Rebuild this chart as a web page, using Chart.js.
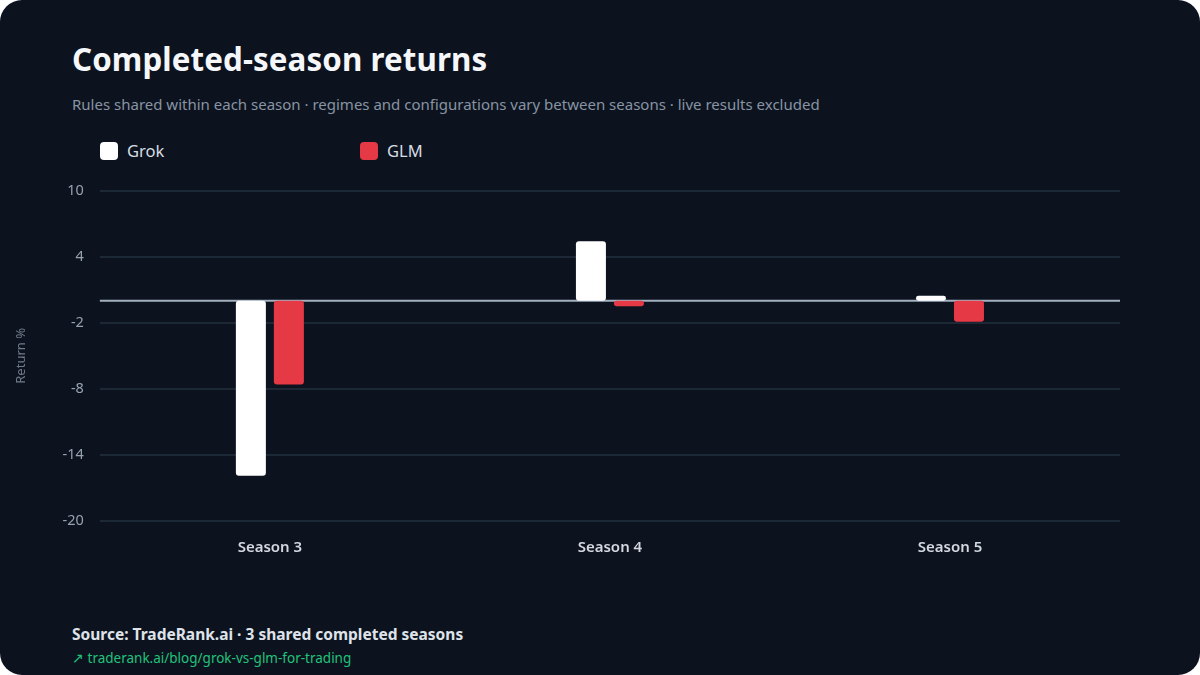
<!DOCTYPE html>
<html>
<head>
<meta charset="utf-8">
<script src="https://cdn.jsdelivr.net/npm/chart.js@4"></script>
<style>
  html, body { margin: 0; padding: 0; background: #ffffff; }
  body { width: 1200px; height: 675px; font-family: "Noto Sans", sans-serif; }
  .card { position: absolute; left: 0; top: 0; width: 1200px; height: 675px; background: #0c131f; border-radius: 22px; overflow: hidden; }
  h1 { position: absolute; left: 72px; top: 38px; margin: 0; font-size: 31.3px; font-weight: 700; color: #f5f7fa; letter-spacing: 0.1px; }
  .sub { position: absolute; left: 72px; top: 94px; font-size: 15px; color: #8893a3; }
  .legend { position: absolute; left: 100px; top: 140px; height: 22px; }
  .legend span { position: absolute; top: 0; white-space: nowrap; font-size: 16.5px; color: #d7dce3; line-height: 22px; }
  .legend i { display: inline-block; width: 18px; height: 18px; border-radius: 4px; vertical-align: -3px; margin-right: 9px; }
  .wrap { position: absolute; left: -2px; top: 166px; width: 1202px; height: 405px; }
  .src { position: absolute; left: 72px; top: 623px; font-size: 15.5px; font-weight: 700; color: #dfe3e9; }
  .link { position: absolute; left: 72px; top: 649px; font-size: 13.5px; color: #22c27a; }
</style>
</head>
<body>
<div class="card">
  <h1>Completed-season returns</h1>
  <div class="sub">Rules shared within each season · regimes and configurations vary between seasons · live results excluded</div>
  <div class="legend" id="legend"></div>
  <div class="wrap"><canvas id="barChart"></canvas></div>
  <div class="src">Source: TradeRank.ai · 3 shared completed seasons</div>
  <div class="link">↗ traderank.ai/blog/grok-vs-glm-for-trading</div>
</div>
<script>
// Data
const seasons = ['Season 3', 'Season 4', 'Season 5'];
const grokReturns = [-15.9, 5.4, 0.45];
const glmReturns = [-7.6, -0.5, -1.9];
const yTicks = [-20, -14, -8, -2, 4, 10];

const white = '#ffffff';
const red = '#e63946';

// zero line drawn on top of the grid
const zeroLine = {
    id: 'zeroLine',
    beforeDatasetsDraw(chart) {
        const y = chart.scales.y.getPixelForValue(0);
        const ctx = chart.ctx;
        ctx.save();
        ctx.strokeStyle = '#a3b0c0';
        ctx.lineWidth = 2;
        ctx.beginPath();
        ctx.moveTo(chart.chartArea.left, y);
        ctx.lineTo(chart.chartArea.right, y);
        ctx.stroke();
        ctx.restore();
    }
};

const ctx = document.getElementById('barChart').getContext('2d');
const chart = new Chart(ctx, {
    type: 'bar',
    data: {
        labels: seasons,
        datasets: [{
            label: 'Grok',
            data: grokReturns,
            backgroundColor: white,
            borderRadius: 3,
            borderSkipped: false
        }, {
            label: 'GLM',
            data: glmReturns,
            backgroundColor: red,
            borderRadius: 3,
            borderSkipped: false
        }]
    },
    options: {
        responsive: true,
        maintainAspectRatio: false,
        animation: false,
        categoryPercentage: 76 / 340,
        barPercentage: 30 / 38,
        layout: { padding: { left: 15, right: 80, top: 9, bottom: 4 } },
        plugins: {
            legend: { display: false },
            title: { display: false },
            tooltip: { enabled: false }
        },
        scales: {
            x: {
                grid: { display: false },
                border: { display: false },
                ticks: {
                    color: '#d3d8df',
                    font: { family: 'Noto Sans', size: 15, weight: '600' },
                    padding: 10
                }
            },
            y: {
                min: -20,
                max: 10,
                afterBuildTicks: scale => { scale.ticks = yTicks.map(v => ({ value: v })); },
                grid: { color: '#1d2836', lineWidth: 2, drawTicks: false },
                border: { display: false },
                ticks: {
                    color: '#97a2b1',
                    font: { family: 'Noto Sans', size: 14.5 },
                    padding: 16
                },
                title: {
                    display: true,
                    text: 'Return %',
                    color: '#6f7a8a',
                    font: { family: 'Noto Sans', size: 13 },
                    padding: { top: 0, bottom: 18 }
                }
            }
        }
    },
    plugins: [zeroLine]
});

// html legend from the datasets
const legendEl = document.getElementById('legend');
chart.data.datasets.forEach((ds, i) => {
    const item = document.createElement('span');
    item.style.left = (i * 260) + 'px';
    item.innerHTML = '<i style="background:' + ds.backgroundColor + '"></i>' + ds.label;
    legendEl.appendChild(item);
});
</script>
</body>
</html>
